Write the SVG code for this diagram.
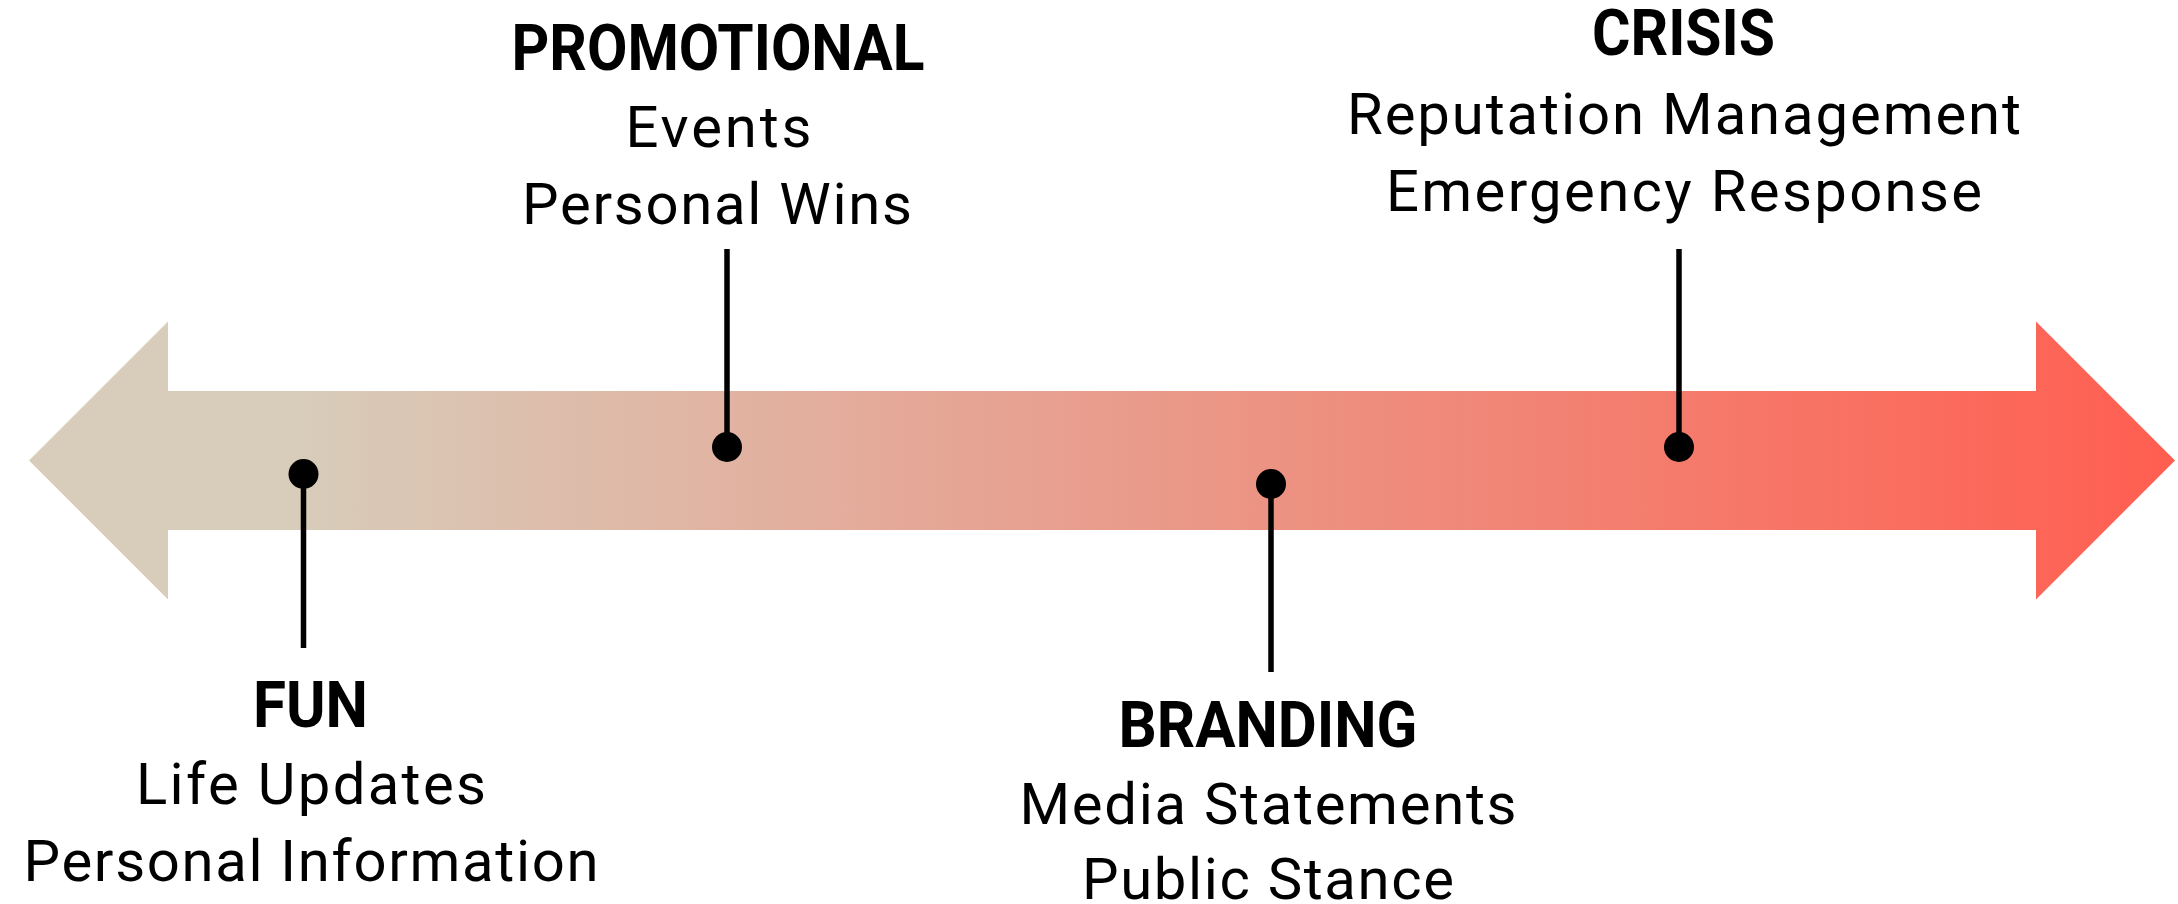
<svg xmlns="http://www.w3.org/2000/svg" width="2178" height="904" viewBox="0 0 2178 904">
<defs>
<linearGradient id="grad" gradientUnits="userSpaceOnUse" x1="300" y1="0" x2="2175" y2="0">
<stop offset="0" stop-color="#D8CCBA"/>
<stop offset="1" stop-color="#FF5E50"/>
</linearGradient>
<style>
text{font-family:Roboto,"Liberation Sans",sans-serif;fill:#000;text-anchor:middle}
.t{font-weight:700;font-size:65px}
.s{font-weight:400;font-size:58px}
.stem{stroke:#000;stroke-width:5.5;fill:none}
.dot{fill:#000}
</style>
</defs>
<rect width="2178" height="904" fill="#fff"/>
<g id="arrow">
<polygon fill="url(#grad)" points="29,460.5 168,321.5 168,391 2036,391 2036,321.5 2175,460.5 2036,599.5 2036,530 168,530 168,599.5"/>
</g>
<g id="connectors">
<line class="stem" x1="303.5" y1="474" x2="303.5" y2="648"/>
<line class="stem" x1="727" y1="249" x2="727" y2="447"/>
<line class="stem" x1="1271" y1="484" x2="1271" y2="672"/>
<line class="stem" x1="1679" y1="249" x2="1679" y2="447"/>
</g>
<g id="fun">
<circle class="dot" cx="303.5" cy="474" r="15"/>
<text class="t" x="310.5" y="727" textLength="115" lengthAdjust="spacingAndGlyphs">FUN</text>
<text class="s" x="311" y="804" textLength="350" lengthAdjust="spacing">Life Updates</text>
<text class="s" x="311" y="881" textLength="575" lengthAdjust="spacing">Personal Information</text>
</g>
<g id="promotional">
<circle class="dot" cx="727" cy="447" r="15"/>
<text class="t" x="718" y="70" textLength="413" lengthAdjust="spacingAndGlyphs">PROMOTIONAL</text>
<text class="s" x="718.5" y="147" textLength="186" lengthAdjust="spacing">Events</text>
<text class="s" x="717" y="224" textLength="390" lengthAdjust="spacing">Personal Wins</text>
</g>
<g id="branding">
<circle class="dot" cx="1271" cy="484" r="15"/>
<text class="t" x="1268" y="747" textLength="299" lengthAdjust="spacingAndGlyphs">BRANDING</text>
<text class="s" x="1268" y="824" textLength="497" lengthAdjust="spacing">Media Statements</text>
<text class="s" x="1268" y="899" textLength="372" lengthAdjust="spacing">Public Stance</text>
</g>
<g id="crisis">
<circle class="dot" cx="1679" cy="447" r="15"/>
<text class="t" x="1683.5" y="55" textLength="183" lengthAdjust="spacingAndGlyphs">CRISIS</text>
<text class="s" x="1684" y="134" textLength="674" lengthAdjust="spacing">Reputation Management</text>
<text class="s" x="1684" y="211" textLength="596" lengthAdjust="spacing">Emergency Response</text>
</g>
</svg>
